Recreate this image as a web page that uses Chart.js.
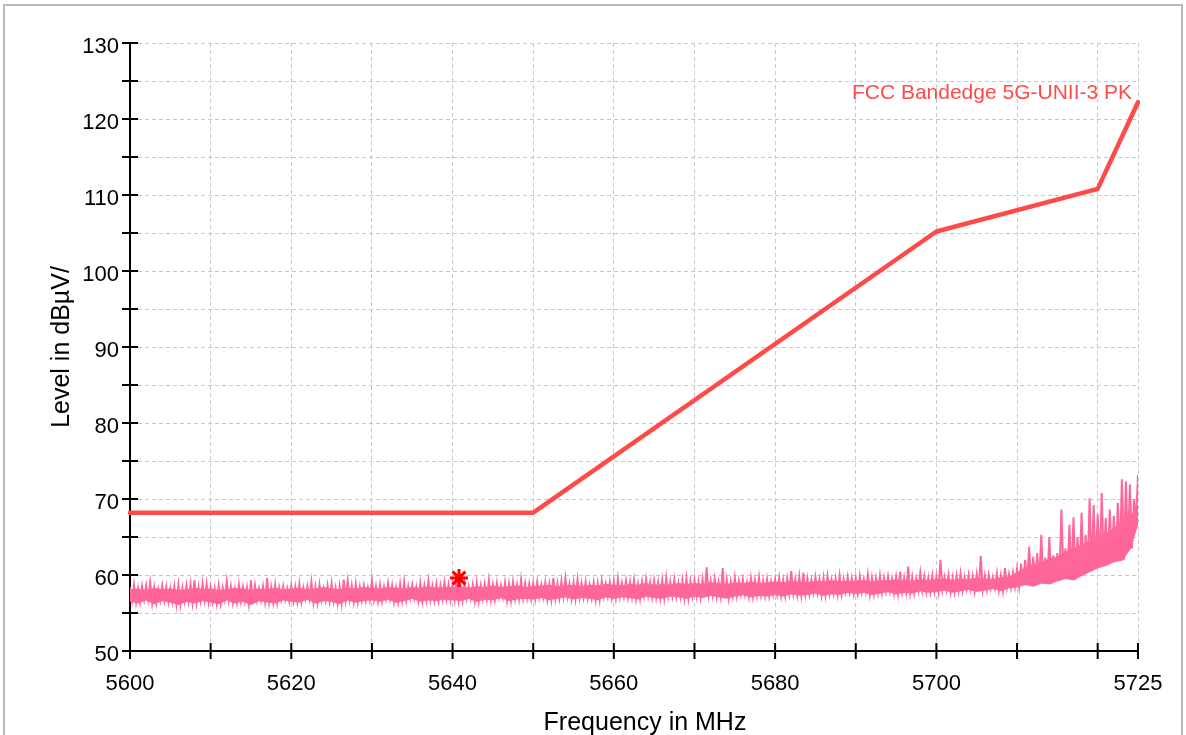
<!DOCTYPE html>
<html>
<head>
<meta charset="utf-8">
<script src="https://cdn.jsdelivr.net/npm/chart.js@4.4.1/dist/chart.umd.min.js"></script>
<style>
  html, body { margin: 0; padding: 0; background: #fff; overflow: hidden; }
  #wrap { position: relative; width: 1186px; height: 735px; }
</style>
</head>
<body>
<div id="wrap"><canvas id="chart"></canvas></div>
<script>
// 坐标轴刻度
const xTickValues = [5600, 5610, 5620, 5630, 5640, 5650, 5660, 5670, 5680, 5690, 5700, 5710, 5720, 5725];
const xLabelValues = [5600, 5620, 5640, 5660, 5680, 5700, 5725];

// 限值线 FCC Bandedge 5G-UNII-3 PK
const limitFreq = [5600, 5650, 5700, 5720, 5725];
const limitLevel = [68.2, 68.2, 105.2, 110.8, 122.2];

// 测量迹线：每 0.5 MHz 的峰值，每 1 MHz 的核心上沿与底部
const noiseStart = 5600;
const peakStep = 0.5;
const bandStep = 1;
const noisePeaks = [
    58.4, 58.7, 58.2, 58.5, 58.6, 59.0, 58.3, 58.1, 58.6, 58.4, 58.2, 58.5, 58.7, 58.3, 58.6, 58.8, 59.3, 58.4, 58.9, 58.8,
    58.4, 58.2, 58.6, 58.3, 59.2, 58.5, 58.1, 58.7, 58.4, 58.3, 59.3, 58.6, 58.2, 58.5, 59.6, 58.4, 58.7, 58.3, 58.5, 58.2,
    58.6, 58.4, 58.8, 58.3, 58.5, 59.1, 58.4, 58.7, 58.2, 58.6, 58.9, 58.3, 58.5, 59.4, 59.2, 58.6, 58.8, 58.4, 58.6, 58.3,
    59.3, 58.5, 58.7, 58.4, 58.9, 58.6, 58.3, 58.8, 59.1, 58.5, 58.7, 58.4, 58.9, 58.6, 59.2, 58.5, 58.8, 58.6, 59.0, 58.7,
    58.8, 59.2, 58.6, 58.9, 58.5, 58.7, 59.0, 58.6, 58.8, 59.3, 58.7, 58.9, 58.6, 59.0, 58.8, 59.1, 58.7, 59.4, 58.9, 58.8,
    58.9, 59.1, 58.7, 59.0, 58.8, 59.6, 58.9, 59.2, 59.6, 58.8, 59.0, 59.4, 58.9, 59.1, 58.7, 59.0, 58.9, 59.2, 58.8, 59.0,
    59.1, 59.5, 58.9, 59.2, 59.0, 59.3, 58.8, 59.1, 59.4, 59.0, 59.2, 59.0, 59.3, 59.6, 59.1, 59.4, 58.9, 59.3, 59.5, 59.2,
    59.3, 59.1, 59.4, 61.0, 59.2, 59.5, 59.0, 60.9, 59.3, 59.1, 59.6, 59.2, 59.4, 59.0, 59.5, 59.3, 59.7, 59.2, 59.4, 59.1,
    59.4, 59.6, 59.3, 59.5, 60.5, 59.4, 59.8, 60.3, 59.5, 59.3, 59.7, 59.4, 59.6, 59.8, 59.3, 59.5, 59.9, 59.4, 59.7, 59.5,
    59.6, 59.8, 59.4, 60.0, 59.6, 59.5, 59.9, 59.6, 59.8, 59.5, 59.7, 60.4, 59.6, 61.1, 59.7, 59.5, 60.3, 59.8, 59.6, 59.9,
    59.8, 62.0, 59.7, 60.0, 59.6, 59.9, 60.2, 59.7, 60.0, 59.8, 60.1, 62.5, 59.9, 60.0, 59.7, 60.2, 59.9, 60.9, 60.1, 60.3,
    60.8, 61.5, 62.0, 63.7, 62.4, 62.9, 65.3, 62.3, 65.0, 62.6, 62.9, 68.6, 63.5, 66.6, 67.6, 65.0, 68.2, 65.3, 70.1, 69.2,
    68.0, 70.8, 67.5, 68.6, 67.8, 69.5, 72.6, 72.3, 71.9, 70.0, 73.2
];
const noiseCore = [
    58.0, 58.1, 57.9, 58.2, 58.0, 58.1, 57.9, 58.0, 58.2, 58.0,
    58.1, 57.9, 58.0, 58.2, 58.1, 57.9, 58.1, 58.0, 58.2, 58.0,
    58.1, 58.2, 58.0, 58.1, 58.3, 58.1, 58.0, 58.2, 58.1, 58.3,
    58.2, 58.1, 58.3, 58.2, 58.1, 58.3, 58.2, 58.4, 58.2, 58.3,
    58.3, 58.4, 58.2, 58.4, 58.3, 58.5, 58.3, 58.4, 58.5, 58.3,
    58.4, 58.5, 58.6, 58.4, 58.5, 58.6, 58.4, 58.6, 58.5, 58.7,
    58.6, 58.5, 58.7, 58.6, 58.8, 58.6, 58.7, 58.6, 58.8, 58.7,
    58.8, 58.7, 58.9, 58.8, 58.7, 58.9, 58.8, 59.0, 58.8, 58.9,
    59.0, 58.9, 59.1, 59.0, 58.9, 59.1, 59.0, 59.2, 59.0, 59.1,
    59.1, 59.2, 59.0, 59.2, 59.1, 59.3, 59.2, 59.1, 59.3, 59.2,
    59.3, 59.4, 59.2, 59.4, 59.3, 59.5, 59.4, 59.3, 59.6, 59.7,
    60.2, 60.8, 61.3, 61.6, 62.0, 62.3, 62.9, 63.4, 63.8, 64.3,
    64.8, 65.3, 66.0, 66.8, 67.5, 69.0
];
const noiseFloor = [
    56.6, 56.4, 56.8, 56.3, 56.7, 56.5, 56.2, 56.6, 56.4, 56.7,
    56.5, 56.3, 56.8, 56.4, 56.6, 56.2, 56.7, 56.5, 56.4, 56.8,
    56.6, 56.5, 56.9, 56.4, 56.7, 56.6, 56.3, 56.8, 56.5, 56.7,
    56.8, 56.6, 56.9, 56.5, 56.7, 57.0, 56.6, 56.8, 56.7, 56.9,
    56.8, 56.7, 57.0, 56.6, 56.9, 56.8, 57.1, 56.7, 56.9, 57.0,
    56.9, 57.1, 56.8, 57.0, 57.2, 56.9, 57.1, 57.0, 56.8, 57.2,
    57.0, 57.2, 57.1, 56.9, 57.3, 57.1, 57.0, 57.3, 57.2, 57.0,
    57.3, 57.1, 57.4, 57.2, 57.0, 57.3, 57.5, 57.2, 57.4, 57.3,
    57.5, 57.3, 57.6, 57.4, 57.5, 57.7, 57.4, 57.6, 57.5, 57.8,
    57.6, 57.8, 57.5, 57.7, 57.9, 57.6, 57.8, 57.7, 58.0, 57.8,
    57.9, 58.1, 57.8, 58.0, 58.2, 57.9, 58.1, 58.3, 58.0, 58.4,
    58.5, 58.8, 58.6, 59.0, 58.9, 59.3, 59.6, 59.4, 60.0, 60.5,
    61.0, 61.3, 61.8, 62.0, 63.5, 67.0
];

// 标记点
const markerFreq = [5640.8];
const markerLevel = [59.6];

const FONT = 'Arial, "Liberation Sans", sans-serif';
const LIMIT_COLOR = '#ff4a4a';
const TRACE_COLOR = '#ff6699';

// 峰值与底部交替，形成密集迹线
const noiseTrace = [];
noisePeaks.forEach((v, i) => {
    const f = noiseStart + i * peakStep;
    noiseTrace.push({ x: f, y: v });
    if (i < noisePeaks.length - 1) {
        const fm = f + peakStep / 2;
        noiseTrace.push({ x: fm, y: noiseFloor[Math.round((fm - noiseStart) / bandStep)] });
    }
});
const bandPoints = arr => arr.map((v, i) => ({ x: noiseStart + i * bandStep, y: v }));

// 刻度线：穿过坐标轴两侧
const crossTicks = {
    id: 'crossTicks',
    afterDraw(chart) {
        const { ctx, chartArea, scales: { x, y } } = chart;
        ctx.save();
        ctx.strokeStyle = '#000';
        ctx.lineWidth = 2;
        ctx.beginPath();
        x.ticks.forEach(t => {
            const px = x.getPixelForValue(t.value);
            ctx.moveTo(px, chartArea.bottom - 8);
            ctx.lineTo(px, chartArea.bottom + 8);
        });
        y.ticks.forEach(t => {
            const py = y.getPixelForValue(t.value);
            ctx.moveTo(chartArea.left - 8, py);
            ctx.lineTo(chartArea.left + 8, py);
        });
        ctx.stroke();
        ctx.restore();
    }
};

// 限值标签、X 轴标题和外框
const decorations = {
    id: 'decorations',
    afterDraw(chart) {
        const { ctx, chartArea, width, height } = chart;
        ctx.save();
        ctx.font = '21px ' + FONT;
        ctx.fillStyle = LIMIT_COLOR;
        ctx.textAlign = 'right';
        ctx.textBaseline = 'alphabetic';
        ctx.fillText('FCC Bandedge 5G-UNII-3 PK', chartArea.right - 6, chartArea.top + 56);

        ctx.font = '25px ' + FONT;
        ctx.fillStyle = '#000';
        ctx.textAlign = 'center';
        ctx.fillText('Frequency in MHz', (chartArea.left + chartArea.right) / 2 + 11, height - 5);

        ctx.strokeStyle = '#b8b8b8';
        ctx.lineWidth = 2;
        ctx.strokeRect(4, 5, width - 8, height - 3);
        ctx.restore();
    }
};

const gridStyle = {
    color: '#c8c8c8',
    lineWidth: 1,
    drawTicks: false
};

new Chart(document.getElementById('chart'), {
    type: 'line',
    data: {
        datasets: [
            {
                type: 'scatter',
                data: markerFreq.map((f, i) => ({ x: f, y: markerLevel[i] })),
                pointStyle: 'star',
                pointRadius: 9,
                borderColor: '#ff0000',
                backgroundColor: '#ff0000',
                borderWidth: 3,
                clip: false
            },
            {
                data: limitFreq.map((f, i) => ({ x: f, y: limitLevel[i] })),
                borderColor: LIMIT_COLOR,
                borderWidth: 4.5,
                borderCapStyle: 'round',
                borderJoinStyle: 'round',
                pointRadius: 0,
                tension: 0,
                clip: 4
            },
            {
                data: noiseTrace,
                borderColor: TRACE_COLOR,
                borderWidth: 2,
                pointRadius: 0,
                tension: 0
            },
            {
                data: bandPoints(noiseCore),
                borderColor: TRACE_COLOR,
                backgroundColor: TRACE_COLOR,
                borderWidth: 2,
                pointRadius: 0,
                tension: 0,
                fill: '+1'
            },
            {
                data: bandPoints(noiseFloor),
                borderColor: TRACE_COLOR,
                borderWidth: 2,
                pointRadius: 0,
                tension: 0
            }
        ]
    },
    options: {
        responsive: true,
        maintainAspectRatio: false,
        animation: false,
        events: [],
        layout: { padding: { top: 43, right: 48, bottom: 0, left: 0 } },
        plugins: {
            legend: { display: false },
            tooltip: { enabled: false }
        },
        scales: {
            x: {
                type: 'linear',
                min: 5600,
                max: 5725,
                afterBuildTicks: scale => {
                    scale.ticks = xTickValues.map(v => ({ value: v }));
                },
                afterFit: scale => { scale.height = 84; },
                ticks: {
                    autoSkip: false,
                    maxRotation: 0,
                    padding: 20,
                    color: '#000',
                    font: { family: FONT, size: 22 },
                    callback: v => xLabelValues.includes(v) ? String(v) : ''
                },
                grid: { ...gridStyle },
                border: { display: true, color: '#000', width: 2, dash: [4, 3] }
            },
            y: {
                min: 50,
                max: 130,
                afterFit: scale => { scale.width = 130; },
                ticks: {
                    stepSize: 5,
                    padding: 11,
                    labelOffset: 4,
                    color: '#000',
                    font: { family: FONT, size: 22 },
                    callback: v => v % 10 === 0 ? String(v) : ''
                },
                grid: { ...gridStyle },
                border: { display: true, color: '#000', width: 2, dash: [4, 3] },
                title: {
                    display: true,
                    text: 'Level in dBµV/',
                    color: '#000',
                    font: { family: FONT, size: 25 },
                    padding: { top: 47, bottom: 0 }
                }
            }
        }
    },
    plugins: [crossTicks, decorations]
});
</script>
</body>
</html>
